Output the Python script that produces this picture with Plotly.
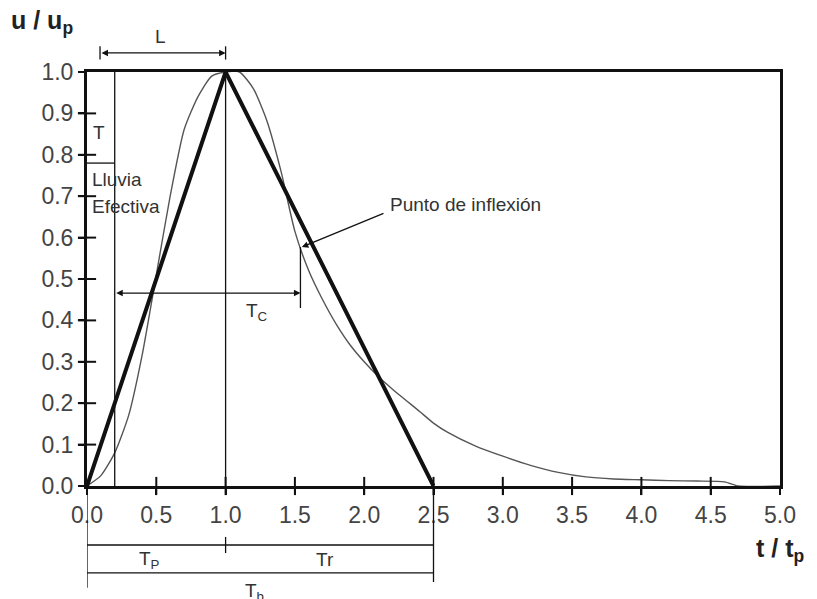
import plotly.graph_objects as go

# curvilinear dimensionless unit hydrograph (thin line)
t_curve = [0, 0.1, 0.2, 0.3, 0.4, 0.5, 0.6, 0.7, 0.8, 0.9, 1.0, 1.1, 1.2, 1.3, 1.4,
           1.5, 1.6, 1.7, 1.8, 1.9, 2.0, 2.1, 2.2, 2.4, 2.5, 2.6, 2.8, 3.0, 3.2,
           3.4, 3.6, 3.8, 4.0, 4.2, 4.4, 4.6, 4.7, 5.0]
q_curve = [0, 0.025, 0.08, 0.17, 0.32, 0.51, 0.70, 0.86, 0.94, 0.99, 1.0, 1.0, 0.96,
           0.88, 0.76, 0.615, 0.52, 0.45, 0.39, 0.34, 0.30, 0.265, 0.235, 0.18,
           0.152, 0.13, 0.097, 0.072, 0.05, 0.033, 0.022, 0.017, 0.015, 0.013,
           0.012, 0.01, 0.0, 0.0]

# triangular unit hydrograph (thick line)
t_tri = [0, 1.0, 2.5]
q_tri = [0, 1.0, 0]

# axis ticks
x_ticks = [0, 0.5, 1.0, 1.5, 2.0, 2.5, 3.0, 3.5, 4.0, 4.5, 5.0]
x_labels = ["0.0", "0.5", "1.0", "1.5", "2.0", "2.5", "3.0", "3.5", "4.0", "4.5", "5.0"]
y_ticks = [0, 0.1, 0.2, 0.3, 0.4, 0.5, 0.6, 0.7, 0.8, 0.9, 1.0]
y_labels = ["0.0", "0.1", "0.2", "0.3", "0.4", "0.5", "0.6", "0.7", "0.8", "0.9", "1.0"]

# reference values
rain_end = 0.2        # end of effective rainfall
rain_top = 0.78       # bottom of the "T" box
lag_start = 0.094     # start of L
peak_t = 1.0
base_t = 2.5
tc_y = 0.466
tc_end = 1.54
inflex_t, inflex_q = 1.55, 0.577
lag_y = 1.046
tp_y = -0.1425
tb_y = -0.21

FONT = "Liberation Sans, Arial, sans-serif"
INK = "#111"
TXT = "#333"

fig = go.Figure()

fig.add_trace(go.Scatter(x=t_curve, y=q_curve, mode="lines",
                         line=dict(color="#555", width=1.4, shape="spline", smoothing=0.6),
                         showlegend=False, hoverinfo="skip"))
fig.add_trace(go.Scatter(x=t_tri, y=q_tri, mode="lines",
                         line=dict(color=INK, width=4),
                         showlegend=False, hoverinfo="skip"))

# tick crosses on the axes
fig.add_trace(go.Scatter(x=[0] * (len(y_ticks) - 2), y=y_ticks[1:-1], mode="markers",
                         marker=dict(symbol="line-ew", size=13, line=dict(color=INK, width=2)),
                         cliponaxis=False, showlegend=False, hoverinfo="skip"))
fig.add_trace(go.Scatter(x=x_ticks[1:-1], y=[0] * (len(x_ticks) - 2), mode="markers",
                         marker=dict(symbol="line-ns", size=13, line=dict(color=INK, width=2)),
                         cliponaxis=False, showlegend=False, hoverinfo="skip"))

thin = dict(color=INK, width=1.3)
# inside plot
fig.add_shape(type="line", x0=rain_end, x1=rain_end, y0=0, y1=1, line=thin)
fig.add_shape(type="line", x0=0, x1=rain_end, y0=rain_top, y1=rain_top, line=thin)
fig.add_shape(type="line", x0=peak_t, x1=peak_t, y0=0, y1=1, line=thin)
fig.add_shape(type="line", x0=tc_end, x1=tc_end, y0=0.43, y1=0.577, line=thin)
# outside plot (y in paper units == data units here)
fig.add_shape(type="line", xref="x", yref="paper", x0=lag_start, x1=lag_start, y0=1.03, y1=1.062, line=thin)
fig.add_shape(type="line", xref="x", yref="paper", x0=peak_t, x1=peak_t, y0=1.03, y1=1.062, line=thin)
fig.add_shape(type="line", xref="x", yref="paper", x0=0, x1=base_t, y0=tp_y, y1=tp_y, line=thin)
fig.add_shape(type="line", xref="x", yref="paper", x0=peak_t, x1=peak_t, y0=-0.123, y1=-0.162, line=thin)
fig.add_shape(type="line", xref="x", yref="paper", x0=0, x1=base_t, y0=tb_y, y1=tb_y, line=thin)
fig.add_shape(type="line", xref="x", yref="paper", x0=0, x1=0, y0=0, y1=-0.246, line=thin)
fig.add_shape(type="line", xref="x", yref="paper", x0=base_t, x1=base_t, y0=0, y1=-0.232, line=thin)

arrow = dict(showarrow=True, arrowhead=2, arrowsize=1, arrowwidth=1.3, arrowcolor=INK, text="")
fig.add_annotation(x=tc_end, y=tc_y, ax=rain_end, ay=tc_y, xref="x", yref="y", axref="x", ayref="y",
                   arrowside="end+start", **arrow)
fig.add_annotation(x=peak_t, y=lag_y, ax=lag_start, ay=0, xref="x", yref="paper", axref="x", ayref="pixel",
                   arrowside="end+start", **arrow)
fig.add_annotation(x=inflex_t, y=inflex_q, ax=2.15, ay=0.66, xref="x", yref="y", axref="x", ayref="y",
                   arrowside="end", **arrow)

lab = dict(showarrow=False, font=dict(family=FONT, size=19, color=TXT), yanchor="middle")
fig.add_annotation(x=2.17, y=0.68, xref="x", yref="y", text="Punto de inflexión", xanchor="left", **lab)
fig.add_annotation(x=0.087, y=0.855, xref="x", yref="y", text="T", **lab)
fig.add_annotation(x=0.02, y=0.74, xref="x", yref="y", text="Lluvia", xanchor="left", **lab)
fig.add_annotation(x=0.02, y=0.675, xref="x", yref="y", text="Efectiva", xanchor="left", **lab)
fig.add_annotation(x=1.23, y=0.42, xref="x", yref="y", text="T<sub>C</sub>", **lab)
fig.add_annotation(x=0.527, y=1.085, xref="x", yref="paper", text="L", **lab)
fig.add_annotation(x=0.45, y=-0.178, xref="x", yref="paper", text="T<sub>P</sub>", **lab)
fig.add_annotation(x=1.72, y=-0.178, xref="x", yref="paper", text="Tr", **lab)
fig.add_annotation(x=1.21, y=-0.256, xref="x", yref="paper", text="T<sub>b</sub>", **lab)

title = dict(showarrow=False, font=dict(family=FONT, size=25, color="#222"),
             xref="paper", yref="paper", xanchor="left", yanchor="middle")
fig.add_annotation(x=-0.113, y=1.12, text="<b>u / u<sub>p</sub></b>", **title)
fig.add_annotation(x=0.962, y=-0.155, text="<b>t / t<sub>p</sub></b>", **title)

axis = dict(showline=True, mirror=True, linewidth=3, linecolor=INK, showgrid=False, zeroline=False,
            ticks="outside", ticklen=6, tickwidth=2, tickcolor=INK,
            tickfont=dict(family=FONT, size=23, color="#444"))
fig.update_xaxes(range=[0, 5], tickvals=x_ticks, ticktext=x_labels, **axis)
fig.update_yaxes(range=[0, 1], tickvals=y_ticks, ticktext=y_labels, **axis)

# page body adds 8px, so the figure is 8px smaller than the window
fig.update_layout(width=809, height=591, autosize=False,
                  margin=dict(l=79, r=37, t=64, b=113),
                  plot_bgcolor="white", paper_bgcolor="white",
                  font=dict(family=FONT, color=TXT))

fig.write_html("out.html")
